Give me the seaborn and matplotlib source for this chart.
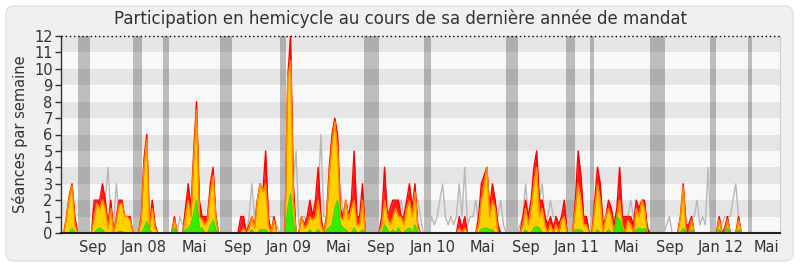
import matplotlib
matplotlib.use("Agg")
import matplotlib.pyplot as plt
import seaborn as sns
import numpy as np
import pandas as pd
from matplotlib.patches import FancyBboxPatch
from matplotlib.transforms import IdentityTransform

# ---------------- data (one value per week, June 2007 -> May 2012) ----------------
presences = [
    0, 0, 1, 2.3, 3, 1, 0, 0, 0, 0, 0, 0, 2, 2, 2, 3, 2, 0.5, 2, 0,
    1, 2, 2, 1, 1, 1, 0, 0, 0, 1, 4.5, 6, 0.5, 2, 0.5, 0, 0, 0, 0, 0,
    0, 1, 0, 0, 0, 1.5, 3, 1.5, 5, 8, 2, 1, 1, 1, 3, 4, 1, 0, 0, 0,
    0, 0, 0, 0, 0, 1, 1, 0, 0.5, 1, 0.5, 2, 3, 2.5, 5, 1, 0, 1, 0, 0,
    0, 0, 9.5, 12, 3, 0, 0, 1, 0.5, 1, 2, 1, 2, 4, 1, 0, 1, 4, 6, 7,
    6, 1.5, 1, 2, 1, 2, 5, 1, 1, 3, 0, 0, 0, 0, 0, 0, 1, 4, 1, 1.5,
    2, 2, 2, 1, 1, 2, 3, 1.5, 3, 0.5, 0, 0, 0, 0, 0, 0, 0, 0, 0, 0,
    0, 0, 0, 0, 1, 0.3, 1, 0, 0, 0, 0, 1, 3, 3.5, 4, 1.5, 3, 2, 0.5, 0,
    0, 0, 0, 0, 0, 0, 0, 1, 2, 1, 2, 4, 5, 2, 2, 1, 0.5, 1, 0.3, 1,
    0.5, 1, 2, 0, 0, 0, 2, 5, 3.5, 1, 1, 0, 0, 2, 4, 3, 0.5, 1, 2, 1.5,
    0.5, 1.5, 4, 1, 1, 1, 1, 0.5, 2, 1.5, 2, 2, 0.3, 0, 0, 0, 0, 0, 0, 0,
    0, 0, 0, 0, 1, 3, 0.5, 0.5, 1, 0, 0, 0, 0, 0, 0, 0, 0, 0, 1, 0,
    0.3, 1, 0, 0, 0, 1, 0, 0, 0, 0, 0, 0, 0, 0, 0, 0, 0, 0, 0, 0,
]
interventions = [
    0, 0, 1, 2.2, 2.9, 0.5, 0, 0, 0, 0, 0, 0, 1, 1.8, 1.5, 2, 1.5, 0.3, 1.5, 0,
    0.8, 1.7, 1.8, 1, 1, 0.8, 0, 0, 0, 0.8, 4, 5.7, 0.3, 1.5, 0.3, 0, 0, 0, 0, 0,
    0, 0.8, 0, 0, 0, 1, 2, 1, 4.5, 7.5, 1, 0.8, 0.5, 0.8, 2.5, 3.5, 0.8, 0, 0, 0,
    0, 0, 0, 0, 0, 0, 0.3, 0, 0.3, 1, 0.3, 2, 3, 2.5, 3, 0.5, 0, 0.8, 0, 0,
    0, 0, 9.5, 10.5, 2, 0, 0, 1, 0.3, 0.5, 1, 0.8, 1, 2, 0.5, 0, 0.8, 3.5, 5.5, 6.8,
    5, 1, 0.8, 2, 0.8, 1.5, 2, 0.5, 0.5, 2, 0, 0, 0, 0, 0, 0, 0.5, 2, 1, 0.5,
    1, 1.5, 1, 1, 0.5, 1.5, 2, 1, 2.5, 0.3, 0, 0, 0, 0, 0, 0, 0, 0, 0, 0,
    0, 0, 0, 0, 0.3, 0, 0.3, 0, 0, 0, 0, 0.5, 2, 3, 4, 1, 2, 1.5, 0, 0,
    0, 0, 0, 0, 0, 0, 0, 0.5, 1.5, 0.5, 1.5, 3, 4, 1, 1.5, 0.5, 0, 0.5, 0, 0.5,
    0, 0.8, 1, 0, 0, 0, 1.5, 3, 2, 0.5, 0.5, 0, 0, 1.5, 3, 2, 0, 1, 1.5, 1,
    0, 1, 2, 0.5, 0, 0.8, 0.5, 0, 1.5, 1, 2, 1.5, 0, 0, 0, 0, 0, 0, 0, 0,
    0, 0, 0, 0, 1, 2.8, 0, 0, 0.8, 0, 0, 0, 0, 0, 0, 0, 0, 0, 0.8, 0,
    0, 0.8, 0, 0, 0, 0.8, 0, 0, 0, 0, 0, 0, 0, 0, 0, 0, 0, 0, 0, 0,
]
questions = [
    0, 0, 0, 0, 0.3, 0, 0, 0, 0, 0, 0, 0, 0, 0.2, 0.3, 0.2, 0, 0, 0, 0,
    0, 0.1, 0.1, 0, 0, 0, 0, 0, 0, 0, 0.3, 0.7, 0.2, 0, 0, 0, 0, 0, 0, 0,
    0, 0.3, 0, 0, 0, 0.2, 0.3, 0.5, 1.2, 2, 0.3, 0.3, 0, 0, 0.4, 0.8, 0.2, 0, 0, 0,
    0, 0, 0, 0, 0, 0, 0, 0, 0, 0.2, 0, 0, 0.2, 0.2, 0.2, 0, 0, 0, 0, 0,
    0, 0, 1.5, 2.4, 0.5, 0, 0, 0, 0, 0, 0.2, 0, 0, 0.2, 0, 0, 0.2, 0.3, 0.5, 1.5,
    2, 0.5, 0.3, 0.2, 0, 0, 0.3, 0, 0, 0.2, 0, 0, 0, 0, 0, 0, 0, 0.5, 0.2, 0,
    0.2, 0, 0.3, 0, 0, 0.2, 0.3, 0, 0.5, 0, 0, 0, 0, 0, 0, 0, 0, 0, 0, 0,
    0, 0, 0, 0, 0, 0, 0, 0, 0, 0, 0, 0, 0.2, 0.3, 0.3, 0.2, 0.2, 0, 0, 0,
    0, 0, 0, 0, 0, 0, 0, 0, 0.2, 0, 0, 0.3, 0.4, 0.3, 0, 0, 0, 0, 0, 0,
    0, 0, 0, 0, 0, 0, 0.2, 0.2, 0.2, 0, 0, 0, 0, 0, 0.2, 0, 0, 0, 0.2, 0,
    0, 1, 0.8, 0.2, 0, 0, 0, 0, 0.2, 0.3, 0.2, 0.3, 0, 0, 0, 0, 0, 0, 0, 0,
    0, 0, 0, 0, 0, 0.3, 0, 0, 0.2, 0, 0, 0, 0, 0, 0, 0, 0, 0, 0.2, 0,
    0, 0.3, 0, 0, 0, 0.2, 0, 0, 0, 0, 0, 0, 0, 0, 0, 0, 0, 0, 0, 0,
]
mediane = [
    0, 0, 0.5, 1, 0.5, 0, 0, 0, 0, 0, 0, 0, 0, 0, 0, 2, 2, 4, 1, 0.5,
    3, 1, 2, 1, 1, 0, 0, 0, 0, 1, 2, 2, 0, 0, 0, 0, 0, 0, 0, 0,
    0, 0, 0, 1, 0.5, 1, 0, 0, 1, 1, 0, 1, 1, 1, 1, 0, 0, 0, 0, 0,
    0, 0, 0, 0, 0, 0, 0, 0, 1, 3, 1, 1, 2, 2, 2, 1, 1, 1, 0.5, 0,
    0, 0, 2, 3, 3, 5, 0.5, 1, 1, 0.5, 1, 1, 1, 2, 6, 1, 1, 2, 2, 2,
    2, 3, 1, 1, 1, 2, 1, 1, 1, 0, 0, 0, 0, 0, 0, 0, 1, 2, 1, 1,
    1, 1, 1, 2, 1, 1, 2, 1, 2, 2, 1, 0, 0, 0, 1, 0.5, 1, 2, 3, 1,
    0.5, 1, 0.5, 1, 3, 1, 4, 0.5, 1, 1, 2, 0.5, 2, 2, 2, 1, 2, 1, 1, 2,
    0.5, 0, 0, 0, 0, 0, 0.5, 1, 3, 1, 1, 2, 2, 2, 3, 1, 1, 2, 1, 1,
    0.5, 1, 1, 0, 0, 0, 1, 2, 2, 1, 1, 0, 0, 1, 2, 2, 1, 1, 1, 1,
    1, 1, 2, 1, 1, 1, 2, 1, 1, 1, 2, 1, 0.5, 0, 0, 0, 0, 0, 0, 0.5,
    1, 0, 0, 0, 1, 2, 1, 0.5, 1, 1, 2, 0.5, 1, 0.5, 4, 0, 0, 0, 1, 0.5,
    1, 1, 1, 2, 3, 1, 0, 0, 0, 0, 0, 0, 0, 0, 0, 0, 0, 0, 0, 0,
]
# parliamentary holidays (start week, end week)
vacances_debut = [6.15, 26.04, 36.89, 57.50, 79.20, 109.58, 131.28, 160.94, 182.64, 191.32, 213.02, 234.72, 248.46]
vacances_fin = [10.49, 29.29, 39.06, 61.84, 81.37, 115.01, 133.82, 165.28, 185.89, 192.77, 218.44, 236.89, 249.91]
# month labels (week position, text)
mois_pos = [11.57, 30.02, 48.10, 63.83, 82.21, 100.18, 115.73, 134.54, 152.26, 168.17, 186.62, 204.34, 220.25, 238.70, 254.97]
mois_lab = ["Sep", "Jan 08", "Mai", "Sep", "Jan 09", "Mai", "Sep", "Jan 10", "Mai", "Sep", "Jan 11", "Mai", "Sep", "Jan 12", "Mai"]

titre = "Participation en hemicycle au cours de sa dernière année de mandat"
ylabel = "Séances par semaine"

# ---------------- figure ----------------
sns.set_theme(style="white")
plt.rcParams['font.family'] = ['DejaVu Sans']

N = len(presences)
df = pd.DataFrame({
    "semaine": np.arange(N),
    "presences": presences,
    "interventions": interventions,
    "questions": questions,
    "mediane": mediane,
})

W, H = 800, 267
fig = plt.figure(figsize=(W / 100, H / 100), dpi=100)
fig.patch.set_facecolor("white")
bg = FancyBboxPatch((6, 6), 787, 255, boxstyle="round,pad=0,rounding_size=8",
                    transform=IdentityTransform(), facecolor="#f0f0f0",
                    edgecolor="#e2e2e2", lw=1, zorder=-10)
fig.patches.append(bg)

ax = fig.add_axes([61 / W, 34 / H, 719 / W, 197 / H])
ax.set_zorder(1)
ax.set_xlim(0, N)
ax.set_ylim(0, 12)
ax.set_facecolor("#f8f8f8")

for s, e in zip(vacances_debut, vacances_fin):
    ax.axvspan(s, e, color="#bdbdbd", lw=0, zorder=1)
for k in range(1, 12, 2):
    ax.axhspan(k, k + 1, color="black", alpha=0.075, lw=0, zorder=2)

sns.lineplot(data=df, x="semaine", y="mediane", color="#b8b8b8", lw=1, ax=ax, zorder=3)

ax.fill_between(df["semaine"], df["presences"], color="#ff1a1a", lw=0, zorder=4)
sns.lineplot(data=df, x="semaine", y="presences", color="#ff0000", lw=1, ax=ax, zorder=4)
ax.fill_between(df["semaine"], df["interventions"], color="#ffd000", lw=0, zorder=5)
sns.lineplot(data=df, x="semaine", y="interventions", color="#ff8800", lw=1, ax=ax, zorder=5)
ax.fill_between(df["semaine"], df["questions"], color="#33ee00", lw=0, zorder=6)
sns.lineplot(data=df, x="semaine", y="questions", color="#22dd00", lw=0.8, ax=ax, zorder=6)

ax.axhline(12, color="black", lw=1, ls=(0, (1, 2)), zorder=8, clip_on=False)

ax.spines["top"].set_visible(False)
ax.spines["right"].set_color("#cfcfcf")
ax.spines["right"].set_linewidth(0.8)
ax.spines["left"].set_color("#333333")
ax.spines["left"].set_linewidth(1)
ax.spines["bottom"].set_color("#222222")
ax.spines["bottom"].set_linewidth(1.5)
ax.spines["bottom"].set_zorder(9)

ax.set_yticks(range(13))
ax.set_yticklabels([str(v) for v in range(13)])
ax.tick_params(axis="y", which="both", left=True, length=4, width=1, color="#333333",
               labelsize=10.5, labelcolor="#333333", pad=2)
ax.set_xticks(mois_pos)
ax.set_xticklabels(mois_lab)
ax.tick_params(axis="x", length=0, labelsize=10.5, labelcolor="#333333", pad=5)

ax.set_xlabel("")
ax.set_ylabel(ylabel, fontsize=10.5, color="#333333", labelpad=4)

fig.text(0.5, 1 - 19 / H, titre, ha="center", va="center", fontsize=12, color="#333333")

fig.savefig("out.png", dpi=100, facecolor=fig.get_facecolor())
